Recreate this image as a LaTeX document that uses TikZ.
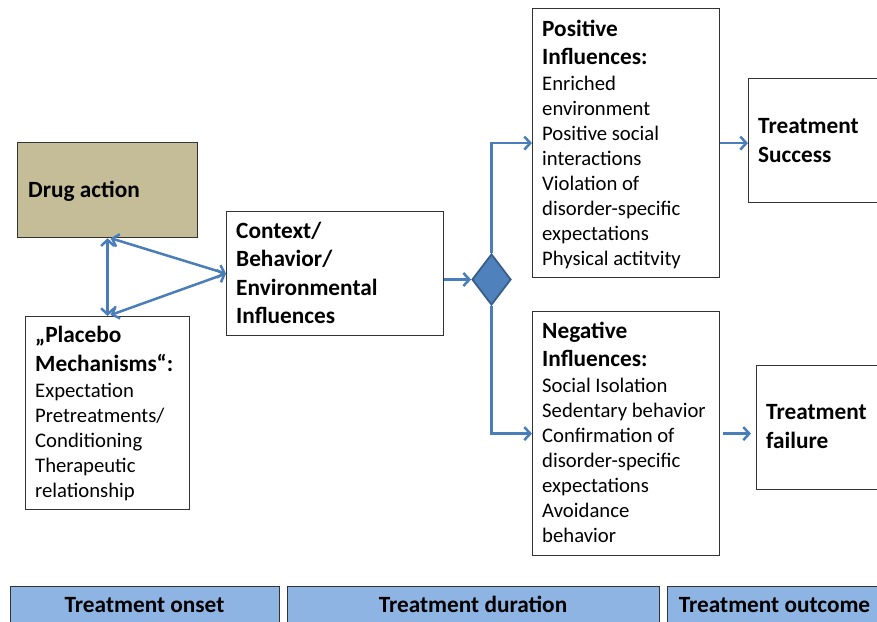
\documentclass[tikz,border=0pt]{standalone}
\usepackage{fontspec}
\setmainfont{Carlito}
\usetikzlibrary{arrows.meta,shapes.geometric,calc}
\definecolor{drugfill}{HTML}{C4BD97}
\definecolor{barfill}{HTML}{8EB4E3}
\definecolor{arrcol}{HTML}{4A7EBB}
\definecolor{diafill}{HTML}{4F81BD}
\definecolor{diadraw}{HTML}{385D8A}
\newcommand{\hd}[1]{{\fontsize{23.3}{28}\selectfont\bfseries #1}}
\newcommand{\fls}{\rule{0pt}{20pt}}
\begin{document}
\begin{tikzpicture}[x=1pt,y=-1pt,
  box/.style={draw=black!80, line width=1.2pt, rectangle, inner sep=0pt, anchor=north west},
  txt/.style={anchor=north west, inner sep=0pt, align=left, font=\fontsize{20.7}{25}\selectfont},
  bartxt/.style={anchor=base, inner sep=0pt, font=\fontsize{23.3}{28}\selectfont\bfseries},
  arr/.style={draw=arrcol, line width=2.5pt, -{Straight Barb[length=6pt,width=13pt]}},
  darr/.style={draw=arrcol, line width=2.5pt, {Straight Barb[length=6pt,width=13pt]}-{Straight Barb[length=6pt,width=13pt]}}
]
\useasboundingbox (0,0) rectangle (877,621);
\clip (0,0) rectangle (877,621);
% boxes
\node[box, fill=drugfill, minimum width=180pt, minimum height=95pt] (drug) at (17,142) {};
\node[box, minimum width=164pt, minimum height=193pt] (placebo) at (25,316) {};
\node[box, minimum width=217pt, minimum height=124pt] (context) at (226,211) {};
\node[box, minimum width=187pt, minimum height=269pt] (positive) at (532,8) {};
\node[box, minimum width=187pt, minimum height=244pt] (negative) at (532,311) {};
\node[box, minimum width=140pt, minimum height=124pt] (success) at (748,78) {};
\node[box, minimum width=140pt, minimum height=124pt] (failure) at (756,365) {};
\node[diamond, draw=diadraw, fill=diafill, line width=1.8pt, inner sep=0pt, minimum width=39pt, minimum height=51pt] (dia) at (491.5,279.5) {};
% bottom bars
\node[box, fill=barfill, minimum width=269pt, minimum height=40pt] (bar1) at (10,586) {};
\node[box, fill=barfill, minimum width=372pt, minimum height=40pt] (bar2) at (287,586) {};
\node[box, fill=barfill, minimum width=215pt, minimum height=40pt] (bar3) at (667,586) {};
\node[bartxt] (bar1t) at (144.5,612) {Treatment onset};
\node[bartxt] (bar2t) at (473,612) {Treatment duration};
\node[bartxt] (bar3t) at (774.5,612) {Treatment outcome};
% texts
\node[txt] (drugt) at (28,177) {\fls\hd{Drug action}};
\node[txt] (placebot) at (35,322) {\fls\hd{„Placebo}\\[4pt]\hd{Mechanisms“:}\\[1pt]Expectation\\Pretreatments/\\Conditioning\\Therapeutic\\relationship};
\node[txt] (contextt) at (236,218) {\fls\hd{Context/}\\[3.5pt]\hd{Behavior/}\\[3.5pt]\hd{Environmental}\\[3.5pt]\hd{Influences}};
\node[txt] (positivet) at (542,16) {\fls\hd{Positive}\\[3pt]\hd{Influences:}\\[1pt]Enriched\\environment\\Positive social\\interactions\\Violation of\\disorder-specific\\expectations\\Physical actitvity};
\node[txt] (negativet) at (542,318) {\fls\hd{Negative}\\[3pt]\hd{Influences:}\\[1pt]Social Isolation\\Sedentary behavior\\Confirmation of\\disorder-specific\\expectations\\Avoidance\\behavior};
\node[txt] (successt) at (758,113) {\fls\hd{Treatment}\\[4pt]\hd{Success}};
\node[txt] (failuret) at (766,399) {\fls\hd{Treatment}\\[4pt]\hd{failure}};
% connectors
\draw[darr] (drug.south) -- (placebo.north);
\draw[darr] ($(drug.south)+(3,0)$) -- (context.west);
\draw[darr] ($(placebo.north)+(3,-1)$) -- (context.west);
\draw[arr] (dia.west -| context.east) -- (dia.west);
\draw[arr] (dia.north) |- (positive.west);
\draw[arr] (dia.south) |- (negative.west);
\draw[arr] (positive.east) -- (positive.east -| success.west);
\draw[arr] ($(negative.east)+(3,0)$) -- ($(negative.east -| failure.west)+(-5,0)$);
\end{tikzpicture}
\end{document}
